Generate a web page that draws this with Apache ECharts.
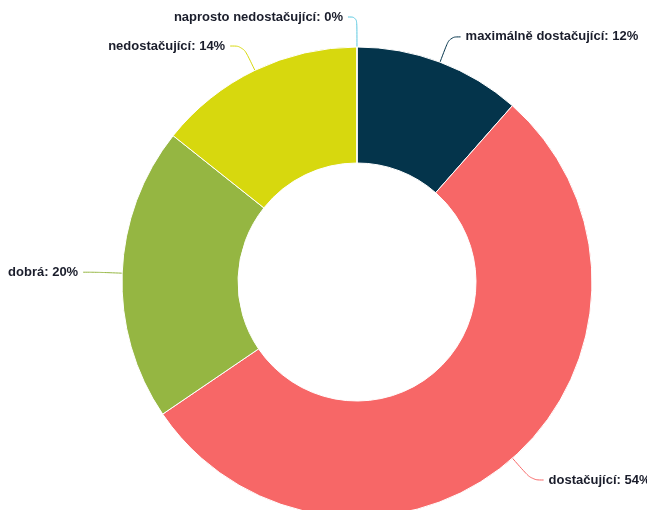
<!DOCTYPE html>
<html>
<head>
<meta charset="utf-8">
<script src="https://cdn.jsdelivr.net/npm/echarts@6/dist/echarts.min.js"></script>
<style>html,body{margin:0;padding:0;background:#fff;}#c{width:647px;height:510px;}</style>
</head>
<body>
<div id="c"></div>
<script>
var categories = ['maximálně dostačující', 'dostačující', 'dobrá', 'nedostačující', 'naprosto nedostačující'];
var values = [11.5, 54.0, 20.2, 14.3, 0];
var colors = ['#04344b', '#f76767', '#95b642', '#d7d80e', '#5bc8e0'];

// connector lengths per slice (styling only)
var lineLen1 = [27, 29, 26, 27, 30];
var lineLen2 = [11, 12, 13, 13, 9];

var chart = echarts.init(document.getElementById('c'));
chart.setOption({
  animation: false,
  series: [{
    type: 'pie',
    center: [357, 282],
    radius: [119, 235],
    startAngle: 90.01,
    clockwise: true,
    avoidLabelOverlap: false,
    stillShowZeroSum: true,
    data: categories.map(function (c, i) {
      return {
        name: c, value: values[i],
        itemStyle: { color: colors[i] },
        labelLine: { length: lineLen1[i], length2: lineLen2[i], lineStyle: { color: colors[i] } }
      };
    }),
    itemStyle: { borderColor: '#fff', borderWidth: 1 },
    label: {
      show: true,
      formatter: function (p) { return p.name + ': ' + Math.round(p.value) + '%'; },
      fontFamily: 'Liberation Sans, Arial, sans-serif',
      fontWeight: 'bold',
      fontSize: 13,
      color: '#1a1d2b',
      textBorderColor: '#fff',
      textBorderWidth: 1,
      distanceToLabelLine: 5
    },
    labelLine: {
      show: true,
      smooth: 0.4,
      lineStyle: { width: 1 }
    }
  }]
});
</script>
</body>
</html>
